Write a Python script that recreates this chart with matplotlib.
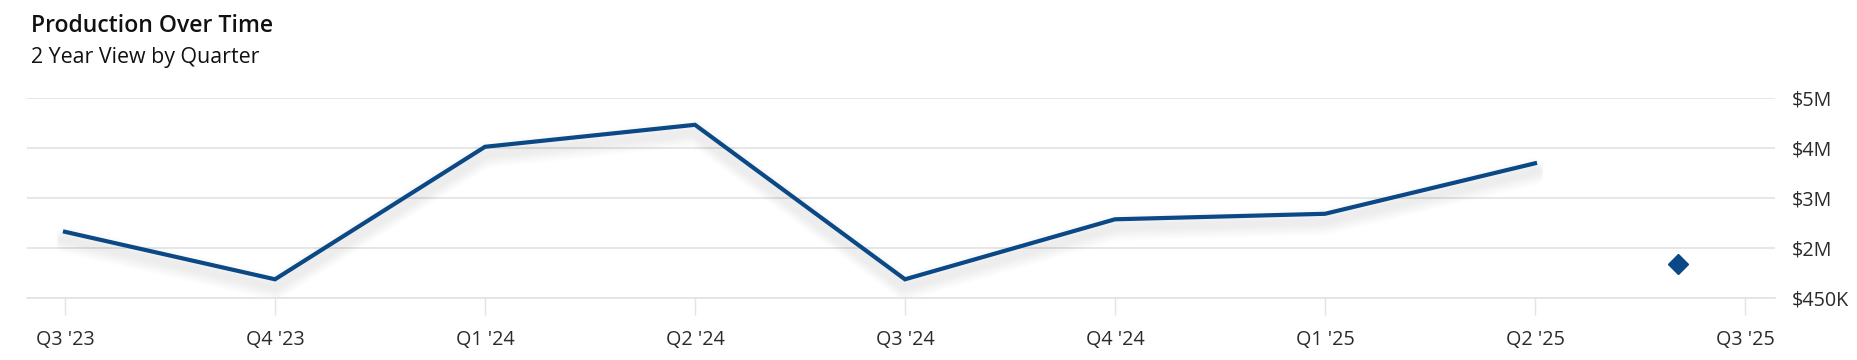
import matplotlib as mpl
mpl.use('Agg')
from matplotlib import pyplot as plt
import matplotlib.transforms as mtransforms

plt.rcParams['font.family'] = ['Open Sans', 'DejaVu Sans']

## data, values in $M
quarters = ["Q3 '23", "Q4 '23", "Q1 '24", "Q2 '24", "Q3 '24", "Q4 '24", "Q1 '25", "Q2 '25", "Q3 '25"]
production = [2.33, 1.38, 4.03, 4.47, 1.38, 2.58, 2.69, 3.70]
# single projected point part way into the current quarter
current_pos = 7.68
current_value = 1.69

y_ticks = [1, 2, 3, 4, 5]
y_labels = ['$450K', '$2M', '$3M', '$4M', '$5M']

line_colour = '#0b4886'
grid_colour = '#e3e3e3'

fig = plt.figure(figsize=(18.58, 3.6), dpi=100)
ax = fig.add_axes([27/1858, 1-298.3/360, (1775-27)/1858, 200/360])

x = list(range(len(production)))

# soft drop shadow under the line
for dy in [3, 5, 7, 9, 11, 13]:
    shadow = mtransforms.offset_copy(ax.transData, fig=fig, x=0, y=-dy, units='dots')
    ax.plot(x, production, color='black', lw=12, alpha=0.011, transform=shadow,
            solid_joinstyle='round', solid_capstyle='round', zorder=2)

ax.plot(x, production, color=line_colour, lw=3.0, solid_joinstyle='miter', zorder=3)
ax.plot([current_pos], [current_value], marker='D', ms=10, color=line_colour, ls='none', zorder=4)

ax.set_xlim(-0.181, 8.143)
ax.set_ylim(1, 5)
ax.set_xticks(range(len(quarters)))
ax.set_xticklabels(quarters)
ax.set_yticks(y_ticks)
ax.set_yticklabels(y_labels)
ax.yaxis.tick_right()

ax.grid(axis='y', color=grid_colour, lw=1.2, zorder=0)
for s in ['top', 'left', 'right']:
    ax.spines[s].set_visible(False)
ax.spines['bottom'].set_color(grid_colour)
ax.spines['bottom'].set_linewidth(1.2)

ax.tick_params(axis='x', length=12, width=1, color=grid_colour, labelsize=14.2, labelcolor='#2b2b2b', pad=11)
ax.tick_params(axis='y', length=0, labelsize=14.2, labelcolor='#2b2b2b', pad=12)

fig.text(31/1858, 1-31.5/360, 'Production Over Time', fontsize=16.6, fontweight='semibold',
         color='#111111', va='baseline', ha='left')
fig.text(31/1858, 1-63/360, '2 Year View by Quarter', fontsize=15.4,
         color='#111111', va='baseline', ha='left')

plt.savefig('out.png', dpi=100, facecolor='white')
plt.close()
